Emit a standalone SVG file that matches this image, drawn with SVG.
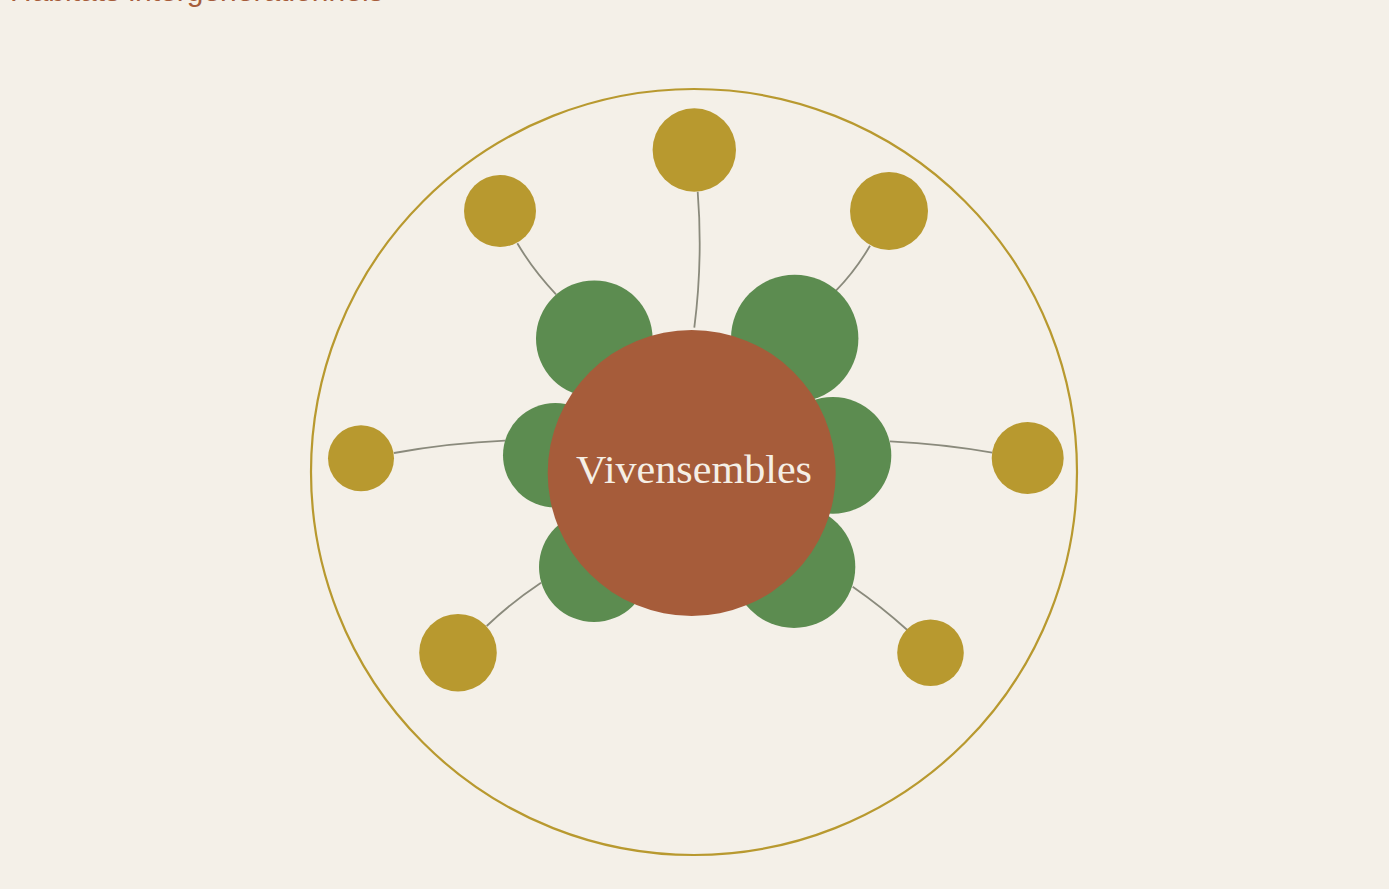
<svg xmlns="http://www.w3.org/2000/svg" width="1389" height="889" viewBox="0 0 1389 889">
<style>
.bg{fill:#f4f0e8}
.ring{fill:none;stroke:#b8992f;stroke-width:2.2}
.hub{fill:#5c8c50}
.leaf{fill:#b8992f}
.core{fill:#a65c3a}
.link{fill:none;stroke:#8a8a7c;stroke-width:1.8}
.title{font-family:"Liberation Sans",Arial,sans-serif;font-size:30px;fill:#a65c3a}
.label{font-family:"Liberation Serif","DejaVu Serif",serif;font-size:40px;fill:#f5efe6}
</style>
<rect class="bg" x="0" y="0" width="1389" height="889"/>
<text class="title" x="10" y="0.5">Habitats intergénérationnels</text>
<g id="outer-ring"><circle class="ring" cx="694" cy="472" r="383"/></g>
<g id="connectors">
<path class="link" d="M694.3,327.7 Q703,260 697.7,191.7"/>
<path class="link" d="M556,294.3 Q533,270 517.3,243.3"/>
<path class="link" d="M836,290.7 Q856,270 870,245.7"/>
<path class="link" d="M505,440.7 Q450,443 394,453"/>
<path class="link" d="M890,441.3 Q945,444 992.3,452.7"/>
<path class="link" d="M541,582.7 Q512,602 486.7,626"/>
<path class="link" d="M852.7,586.7 Q882,607 907.3,630"/>
</g>
<g id="leaf-top"><circle class="leaf" cx="694.3" cy="150" r="41.7"/></g>
<g id="leaf-top-left"><circle class="leaf" cx="500" cy="211" r="36"/></g>
<g id="leaf-top-right"><circle class="leaf" cx="889" cy="211" r="39"/></g>
<g id="leaf-left"><circle class="leaf" cx="361" cy="458.3" r="33"/></g>
<g id="leaf-right"><circle class="leaf" cx="1027.7" cy="458" r="36"/></g>
<g id="leaf-bottom-left"><circle class="leaf" cx="458" cy="652.7" r="38.8"/></g>
<g id="leaf-bottom-right"><circle class="leaf" cx="930.5" cy="652.7" r="33.3"/></g>
<g id="hub-top-left"><circle class="hub" cx="594.3" cy="338.7" r="58.3"/></g>
<g id="hub-top-right"><circle class="hub" cx="794.7" cy="338.4" r="63.7"/></g>
<g id="hub-left"><circle class="hub" cx="555.3" cy="455.3" r="52.3"/></g>
<g id="hub-right"><circle class="hub" cx="832.9" cy="455.4" r="58.4"/></g>
<g id="hub-bottom-left"><circle class="hub" cx="594" cy="567" r="55"/></g>
<g id="hub-bottom-right"><circle class="hub" cx="794" cy="566.7" r="61.3"/></g>
<g id="core">
<ellipse class="core" cx="691.7" cy="473" rx="144" ry="143"/>
<text class="label" x="694" y="483" text-anchor="middle" textLength="236" lengthAdjust="spacingAndGlyphs">Vivensembles</text>
</g>
</svg>
